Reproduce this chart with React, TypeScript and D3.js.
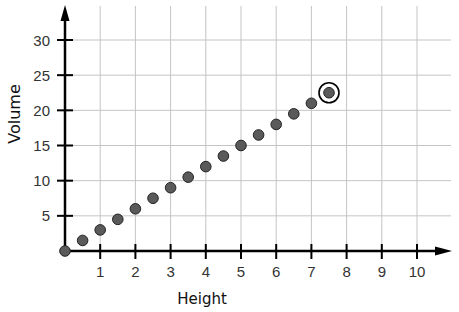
import React from "react";
import * as d3 from "d3";

const heights = [0, 0.5, 1, 1.5, 2, 2.5, 3, 3.5, 4, 4.5, 5, 5.5, 6, 6.5, 7, 7.5];
const volumes = [0, 1.5, 3, 4.5, 6, 7.5, 9, 10.5, 12, 13.5, 15, 16.5, 18, 19.5, 21, 22.5];
const xTicks = [1, 2, 3, 4, 5, 6, 7, 8, 9, 10];
const yTicks = [5, 10, 15, 20, 25, 30];
const highlightIndex = 15;

const W = 459;
const H = 312;

export default function App() {
  const x = d3.scaleLinear().domain([0, 10]).range([65, 417]);
  const y = d3.scaleLinear().domain([0, 30]).range([251, 40]);
  const gridRight = 451;
  const gridTop = 6;
  const tickFont = "'Liberation Sans', Arial, sans-serif";
  const labelFont = "'DejaVu Sans', sans-serif";
  const x0 = x(0);
  const y0 = y(0);
  const gridXs = d3.range(1, 11);
  const gridYs = d3.range(5, 35, 5);
  return (
    <svg width={W} height={H} style={{ position: "absolute", left: 0, top: 0, background: "#fff" }}>
      <g stroke="#c4c4c4" strokeWidth={1}>
        {gridXs.map((v) => (
          <line key={"gx" + v} x1={x(v)} x2={x(v)} y1={gridTop} y2={y0} />
        ))}
        {gridYs.map((v) => (
          <line key={"gy" + v} x1={x0} x2={gridRight} y1={y(v)} y2={y(v)} />
        ))}
      </g>
      {/* axes */}
      <line x1={x0} x2={438} y1={y0} y2={y0} stroke="#000" strokeWidth={2.5} />
      <line x1={x0} x2={x0} y1={y0} y2={18} stroke="#000" strokeWidth={2.5} />
      <path d={`M452,${y0} L435,${y0 - 4.5} L435,${y0 + 4.5} Z`} fill="#000" />
      <path d={`M${x0},5 L${x0 - 4.5},21 L${x0 + 4.5},21 Z`} fill="#000" />
      {/* ticks */}
      {xTicks.map((v) => (
        <g key={"xt" + v}>
          <line x1={x(v)} x2={x(v)} y1={y0 - 7} y2={y0 + 8} stroke="#000" strokeWidth={2} />
          <text x={x(v)} y={276.5} textAnchor="middle" fontFamily={tickFont} fontSize={15} fill="#333">
            {v}
          </text>
        </g>
      ))}
      {yTicks.map((v) => (
        <g key={"yt" + v}>
          <line x1={x0 - 8} x2={x0 + 8} y1={y(v)} y2={y(v)} stroke="#000" strokeWidth={2} />
          <text x={50} y={y(v) + 5.5} textAnchor="end" fontFamily={tickFont} fontSize={15} fill="#333">
            {v}
          </text>
        </g>
      ))}
      <text x={202} y={304} textAnchor="middle" fontFamily={labelFont} fontSize={15} fill="#111">
        Height
      </text>
      <text
        transform={`translate(20,114) rotate(-90)`}
        textAnchor="middle"
        fontFamily={labelFont}
        fontSize={16}
        fill="#111"
      >
        Volume
      </text>
      {/* points */}
      {heights.map((h, i) => (
        <circle key={"p" + i} cx={x(h)} cy={y(volumes[i])} r={5.3} fill="#5a5a5a" stroke="#222" strokeWidth={1} />
      ))}
      <circle
        cx={x(heights[highlightIndex])}
        cy={y(volumes[highlightIndex])}
        r={10}
        fill="none"
        stroke="#000"
        strokeWidth={1.6}
      />
    </svg>
  );
}
